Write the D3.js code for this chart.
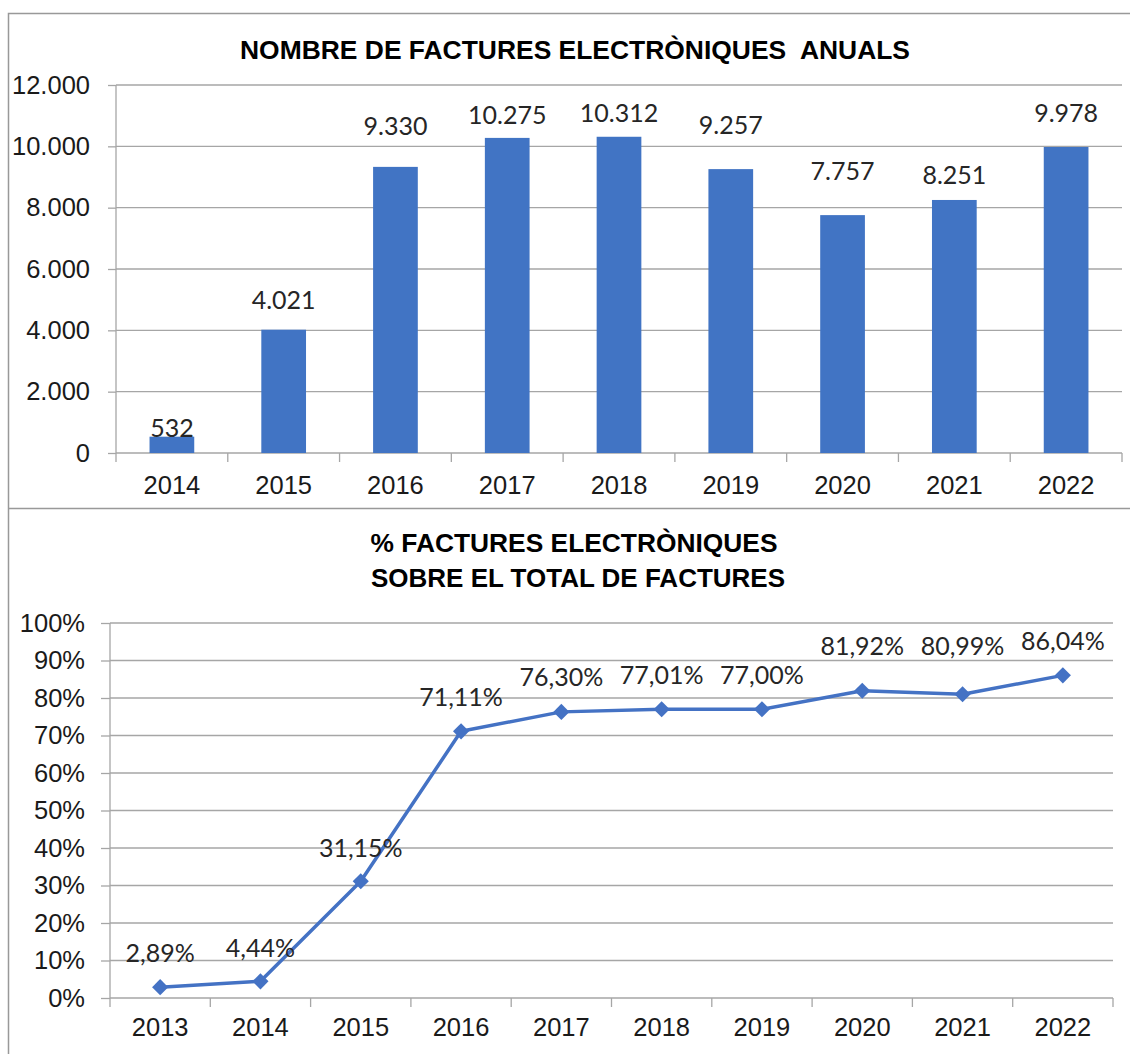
<!DOCTYPE html>
<html>
<head>
<meta charset="utf-8">
<script src="https://cdn.jsdelivr.net/npm/d3@7"></script>
<style>
  body { margin: 0; background: #fff; }
  svg { display: block; }
  .axis text { font-family: "Liberation Sans", Arial, sans-serif; font-size: 25.5px; fill: #1a1a1a; }
  .axis path, .axis line { stroke: #a6a6a6; stroke-width: 1.3; }
  .grid line { stroke: #a6a6a6; stroke-width: 1.3; }
  .title { font-family: "Liberation Sans", Arial, sans-serif; font-weight: bold; font-size: 25px; fill: #000; }
  .lbl { font-family: Lato, "Open Sans", sans-serif; font-size: 25px; fill: #262626; }
</style>
</head>
<body>
<script>
// ---- data ----
const barYears = ["2014","2015","2016","2017","2018","2019","2020","2021","2022"];
const barValues = [532, 4021, 9330, 10275, 10312, 9257, 7757, 8251, 9978];
const barTicks = [0, 2000, 4000, 6000, 8000, 10000, 12000];

const lineYears = ["2013","2014","2015","2016","2017","2018","2019","2020","2021","2022"];
const lineValues = [2.89, 4.44, 31.15, 71.11, 76.30, 77.01, 77.00, 81.92, 80.99, 86.04];
const lineTicks = [0,10,20,30,40,50,60,70,80,90,100];

// ---- layout ----
const W = 1130, H = 1054;
// label centre offsets above the mark (manual placement in the original)
const barLabelDy = [-9, -30, -41, -23, -24, -44, -44, -25, -34];
const lineLabelDy = [-34, -33, -33, -34, -35, -34, -34, -45, -48, -34];

const loc = d3.formatLocale({decimal: ",", thousands: ".", grouping: [3], currency: ["", ""]});
const fmtInt = loc.format(",d");
const fmtPct = loc.format(".2f");

const svg = d3.select("body").append("svg").attr("width", W).attr("height", H);

// frames
svg.append("rect").attr("x", 8.5).attr("y", 13.5).attr("width", 1140).attr("height", 1060)
  .attr("fill", "none").attr("stroke", "#999").attr("stroke-width", 1.5);
svg.append("line").attr("x1", 8).attr("x2", W).attr("y1", 508.5).attr("y2", 508.5)
  .attr("stroke", "#999").attr("stroke-width", 1.5);

// ===== top: bar chart =====
const t = {left: 116, right: 1122, top: 85, bottom: 453};
const xb = d3.scaleBand().domain(barYears).range([t.left, t.right]).paddingInner(0.6).paddingOuter(0.3);
const yb = d3.scaleLinear().domain([0, 12000]).range([t.bottom, t.top]);

svg.append("text").attr("class", "title").attr("x", 575).attr("y", 59).attr("text-anchor", "middle")
  .attr("textLength", 670).attr("lengthAdjust", "spacingAndGlyphs")
  .style("white-space", "pre")
  .text("NOMBRE DE FACTURES ELECTRÒNIQUES  ANUALS");

svg.append("g").attr("class", "grid")
  .selectAll("line").data(barTicks.slice(1)).enter().append("line")
  .attr("x1", t.left).attr("x2", t.right)
  .attr("y1", d => yb(d)).attr("y2", d => yb(d));

svg.append("g").attr("class", "axis").attr("transform", `translate(${t.left},0)`)
  .call(d3.axisLeft(yb).tickValues(barTicks).tickFormat(fmtInt).tickSize(8).tickPadding(18))
  .call(g => g.select(".domain").attr("d", `M0,${t.top}V${t.bottom}`));

const stepB = xb.step();
const bBounds = barYears.map(d => xb(d) - stepB * 0.3).concat([t.right]);
const gxb = svg.append("g").attr("class", "axis");
gxb.append("line").attr("x1", t.left).attr("x2", t.right).attr("y1", t.bottom).attr("y2", t.bottom);
gxb.selectAll(".tk").data(bBounds).enter().append("line").attr("class", "tk")
  .attr("x1", d => d).attr("x2", d => d).attr("y1", t.bottom).attr("y2", t.bottom + 9);
gxb.selectAll(".xl").data(barYears).enter().append("text").attr("class", "xl")
  .attr("x", d => xb(d) + xb.bandwidth() / 2).attr("y", 494).attr("text-anchor", "middle")
  .text(d => d);

svg.selectAll(".bar").data(barValues).enter().append("rect").attr("class", "bar")
  .attr("x", (d, i) => xb(barYears[i]))
  .attr("y", d => yb(d))
  .attr("width", xb.bandwidth())
  .attr("height", d => t.bottom - yb(d))
  .attr("fill", "#4174c4");

svg.selectAll(".blbl").data(barValues).enter().append("text").attr("class", "lbl")
  .attr("x", (d, i) => xb(barYears[i]) + xb.bandwidth() / 2)
  .attr("y", (d, i) => yb(d) + barLabelDy[i] + 9)
  .attr("text-anchor", "middle")
  .text(d => fmtInt(d));

// ===== bottom: line chart =====
const b = {left: 110, right: 1113, top: 623, bottom: 998};
const xl = d3.scalePoint().domain(lineYears).range([b.left, b.right]).padding(0.5);
const yl = d3.scaleLinear().domain([0, 100]).range([b.bottom, b.top]);

svg.append("text").attr("class", "title").attr("x", 574).attr("y", 552).attr("text-anchor", "middle")
  .attr("textLength", 407).attr("lengthAdjust", "spacingAndGlyphs")
  .text("% FACTURES ELECTRÒNIQUES");
svg.append("text").attr("class", "title").attr("x", 578).attr("y", 587).attr("text-anchor", "middle")
  .attr("textLength", 414).attr("lengthAdjust", "spacingAndGlyphs")
  .text("SOBRE EL TOTAL DE FACTURES");

svg.append("g").attr("class", "grid")
  .selectAll("line").data(lineTicks.slice(1)).enter().append("line")
  .attr("x1", b.left).attr("x2", b.right)
  .attr("y1", d => yl(d)).attr("y2", d => yl(d));

svg.append("g").attr("class", "axis").attr("transform", `translate(${b.left},0)`)
  .call(d3.axisLeft(yl).tickValues(lineTicks).tickFormat(d => d + "%").tickSize(9).tickPadding(16))
  .call(g => g.select(".domain").attr("d", `M0,${b.top}V${b.bottom}`));

const stepL = xl.step();
const lBounds = lineYears.map(d => xl(d) - stepL / 2).concat([b.right]);
const gxl = svg.append("g").attr("class", "axis");
gxl.append("line").attr("x1", b.left).attr("x2", b.right).attr("y1", b.bottom).attr("y2", b.bottom);
gxl.selectAll(".tk").data(lBounds).enter().append("line").attr("class", "tk")
  .attr("x1", d => d).attr("x2", d => d).attr("y1", b.bottom).attr("y2", b.bottom + 9);
gxl.selectAll(".xl").data(lineYears).enter().append("text").attr("class", "xl")
  .attr("x", d => xl(d)).attr("y", 1036).attr("text-anchor", "middle")
  .text(d => d);

const line = d3.line().x((d, i) => xl(lineYears[i])).y(d => yl(d));
svg.append("path").datum(lineValues).attr("d", line)
  .attr("fill", "none").attr("stroke", "#4472c4").attr("stroke-width", 3.5).attr("stroke-linejoin", "round");

svg.selectAll(".mk").data(lineValues).enter().append("path").attr("class", "mk")
  .attr("d", d3.symbol(d3.symbolSquare, 130)())
  .attr("transform", (d, i) => `translate(${xl(lineYears[i])},${yl(d)}) rotate(45)`)
  .attr("fill", "#4472c4");

svg.selectAll(".llbl").data(lineValues).enter().append("text").attr("class", "lbl")
  .attr("x", (d, i) => xl(lineYears[i]))
  .attr("y", (d, i) => yl(d) + lineLabelDy[i] + 9)
  .attr("text-anchor", "middle")
  .text(d => fmtPct(d) + "%");
</script>
</body>
</html>
